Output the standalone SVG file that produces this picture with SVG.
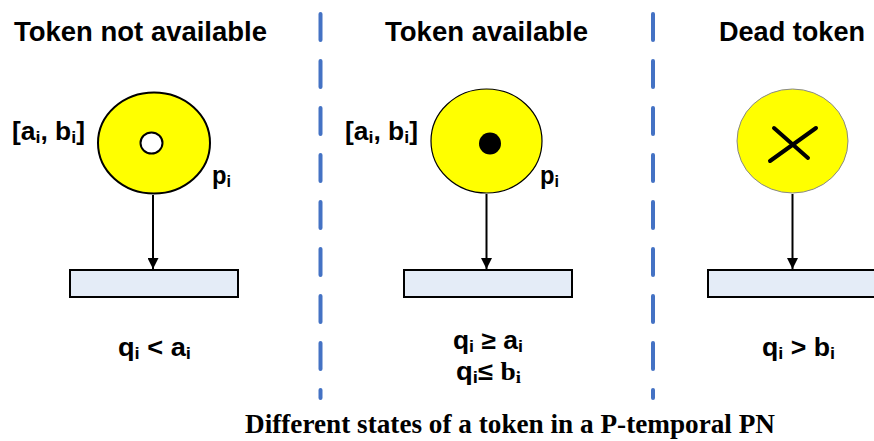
<svg xmlns="http://www.w3.org/2000/svg" width="874" height="441" viewBox="0 0 874 441">
<defs>
<style>
.hdr{font-family:"Liberation Sans",Arial,sans-serif;font-weight:bold;font-size:27px;fill:#000}
.lbl{font-family:"Liberation Sans",Arial,sans-serif;font-weight:bold;font-size:25px;fill:#000}
.sub{font-size:17px}
.ser{font-family:"Liberation Serif","Times New Roman",serif}
.cap{font-family:"Liberation Serif","Times New Roman",serif;font-weight:bold;font-size:27px;fill:#000}
.sep{stroke:#4472C4;stroke-width:4;stroke-linecap:round;stroke-dasharray:26 21;fill:none}
.trans{fill:#E4ECF7;stroke:#000;stroke-width:2}
.arc{stroke:#000;stroke-width:2;fill:none}
</style>
<marker id="ah" viewBox="0 0 10 10" refX="10" refY="5" markerWidth="11" markerHeight="11" markerUnits="userSpaceOnUse" orient="auto">
<path d="M0,0 L10,5 L0,10 Z" fill="#000"/>
</marker>
</defs>
<rect width="874" height="441" fill="#fff"/>

<g id="separators">
<line class="sep" x1="320.5" y1="14" x2="320.5" y2="398"/>
<line class="sep" x1="653" y1="14" x2="653" y2="398"/>
</g>

<g id="headers">
<text class="hdr" x="14" y="41" textLength="253" lengthAdjust="spacingAndGlyphs">Token not available</text>
<text class="hdr" x="385" y="41" textLength="203" lengthAdjust="spacingAndGlyphs">Token available</text>
<text class="hdr" x="719" y="41" textLength="146" lengthAdjust="spacingAndGlyphs">Dead token</text>
</g>

<g id="connectors">
<line class="arc" x1="153" y1="195" x2="153" y2="269" marker-end="url(#ah)"/>
<line class="arc" x1="486.5" y1="194" x2="486.5" y2="269" marker-end="url(#ah)"/>
<line class="arc" x1="792.5" y1="194" x2="792.5" y2="269" marker-end="url(#ah)"/>
</g>

<g id="place1">
<ellipse cx="154" cy="143" rx="56" ry="50.5" fill="#FFFF00" stroke="#000" stroke-width="2"/>
<ellipse cx="151.5" cy="143" rx="11" ry="10.5" fill="#fff" stroke="#000" stroke-width="2"/>
<text class="lbl" x="12" y="140" textLength="73" lengthAdjust="spacingAndGlyphs">[a<tspan class="sub" dy="3">i</tspan><tspan dy="-3">, b</tspan><tspan class="sub" dy="3">i</tspan><tspan dy="-3">]</tspan></text>
<text class="lbl" x="212" y="184" textLength="19" lengthAdjust="spacingAndGlyphs">p<tspan class="sub" dy="3">i</tspan></text>
</g>

<g id="trans1">
<rect class="trans" x="70" y="270" width="168" height="27"/>
</g>
<g id="cond1">
<text class="lbl" x="118" y="356" textLength="73" lengthAdjust="spacingAndGlyphs">q<tspan class="sub" dy="3">i</tspan><tspan dy="-3"> &lt; a</tspan><tspan class="sub" dy="3">i</tspan></text>
</g>

<g id="place2">
<ellipse cx="486.5" cy="141" rx="55.5" ry="52" fill="#FFFF00" stroke="#000" stroke-width="1.2"/>
<circle cx="490" cy="143.5" r="11" fill="#000"/>
<text class="lbl" x="345" y="140" textLength="73" lengthAdjust="spacingAndGlyphs">[a<tspan class="sub" dy="3">i</tspan><tspan dy="-3">, b</tspan><tspan class="sub" dy="3">i</tspan><tspan dy="-3">]</tspan></text>
<text class="lbl" x="540" y="184" textLength="19" lengthAdjust="spacingAndGlyphs">p<tspan class="sub" dy="3">i</tspan></text>
</g>

<g id="trans2">
<rect class="trans" x="404" y="270" width="168" height="27"/>
</g>
<g id="cond2">
<text class="lbl" x="453" y="349" textLength="70" lengthAdjust="spacingAndGlyphs">q<tspan class="sub" dy="3">i</tspan><tspan dy="-3"> ≥ a</tspan><tspan class="sub" dy="3">i</tspan></text>
<text class="lbl" x="456" y="380" textLength="65" lengthAdjust="spacingAndGlyphs">q<tspan class="sub" dy="3">i</tspan><tspan dy="-3">≤ </tspan><tspan class="ser">b</tspan><tspan class="sub ser" dy="3">i</tspan></text>
</g>

<g id="place3">
<ellipse cx="792.5" cy="141" rx="55.5" ry="52" fill="#FFFF00" stroke="#888" stroke-width="1"/>
<line x1="774" y1="128" x2="808" y2="158" stroke="#000" stroke-width="4" stroke-linecap="round"/>
<line x1="816" y1="128" x2="770" y2="161" stroke="#000" stroke-width="4" stroke-linecap="round"/>
</g>

<g id="trans3">
<rect class="trans" x="708" y="270" width="170" height="27"/>
</g>
<g id="cond3">
<text class="lbl" x="762" y="356" textLength="73" lengthAdjust="spacingAndGlyphs">q<tspan class="sub" dy="3">i</tspan><tspan dy="-3"> &gt; b</tspan><tspan class="sub" dy="3">i</tspan></text>
</g>

<g id="caption">
<text class="cap" x="245" y="433" textLength="530" lengthAdjust="spacingAndGlyphs">Different states of a token in a P-temporal PN</text>
</g>
</svg>
